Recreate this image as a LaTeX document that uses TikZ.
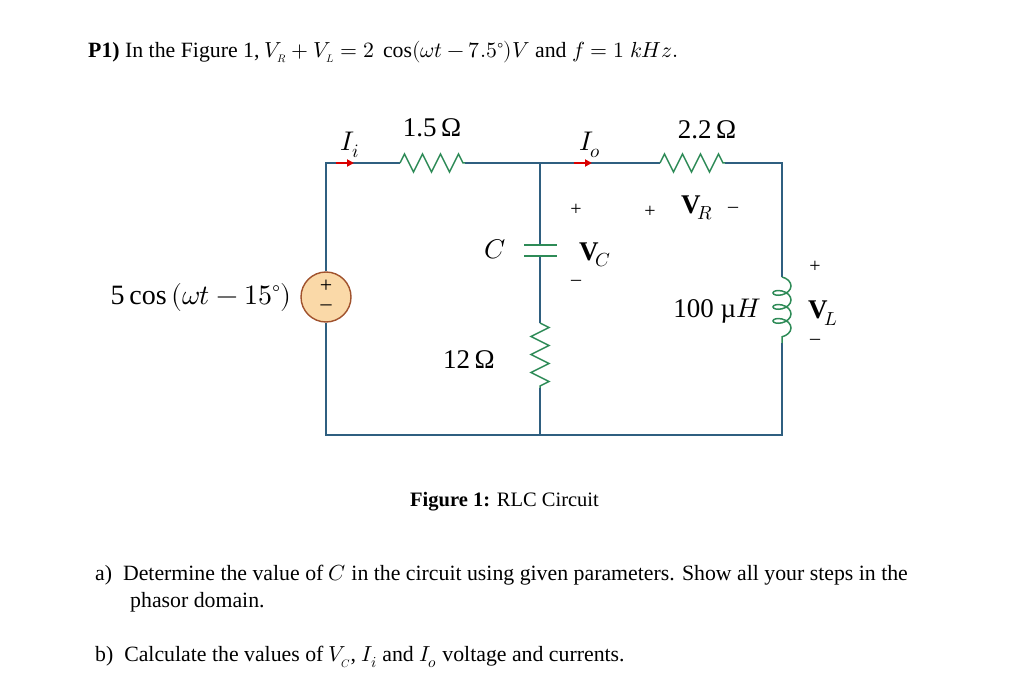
\documentclass[tikz,border=0pt]{standalone}
\usepackage{fontspec}
\usepackage{unicode-math}
\setmainfont{Liberation Serif}
\setmathfont{Latin Modern Math}
\usetikzlibrary{decorations.pathmorphing,arrows.meta}
\definecolor{wire}{HTML}{2F5F80}
\definecolor{comp}{HTML}{2E8B57}
\definecolor{srcfill}{HTML}{FAD9A8}
\definecolor{srcdraw}{HTML}{A0522D}
\tikzset{
 w/.style={draw=wire,line width=1.6pt},
 res/.style={draw=comp,line width=1.5pt,decorate,decoration={zigzag,amplitude=9pt,segment length=18pt}},
 ind/.style={draw=comp,line width=1.5pt,decorate,decoration={coil,amplitude=9pt,segment length=14pt,aspect=0.6}},
 lbl/.style={font=\fontsize{27}{29}\selectfont,inner sep=0pt},
 txt/.style={font=\fontsize{21.8}{26}\selectfont,inner sep=0pt,anchor=west},
 cur/.style={-{Triangle[length=7pt,width=7pt]},draw=red!85!black,line width=2pt}
}
\begin{document}
\begin{tikzpicture}[x=1pt,y=-1pt]
\useasboundingbox (0,0) rectangle (1021,698);
\coordinate (tl) at (326,163); \coordinate (tm) at (540,163); \coordinate (tr) at (782,163);
\coordinate (bl) at (326,435); \coordinate (bm) at (540,435); \coordinate (br) at (782,435);
\coordinate (r1a) at (400,163); \coordinate (r1b) at (465,163);
\coordinate (r2a) at (660,163); \coordinate (r2b) at (725,163);
\coordinate (c1) at (540,245); \coordinate (c2) at (540,256);
\coordinate (r3a) at (540,323); \coordinate (r3b) at (540,388);
\coordinate (l1) at (782,277); \coordinate (l2) at (782,343);
\node[circle,draw=srcdraw,fill=srcfill,line width=1.4pt,minimum size=50pt,inner sep=0pt] (src) at (326,297) {};
\draw[w] (src.north) -- (tl) -- (r1a);
\draw[w] (r1b) -- (tm) -- (r2a);
\draw[w] (r2b) -- (tr) -- (l1);
\draw[w] (l2) -- (br) -- (bl) -- (src.south);
\draw[w] (tm) -- (c1); \draw[w] (c2) -- (r3a); \draw[w] (r3b) -- (bm);
\draw[res] (r1a) -- (r1b);
\draw[res] (r2a) -- (r2b);
\draw[res] (r3a) -- (r3b);
\draw[ind] (l1) -- (l2);
\draw[comp,line width=1.8pt] (524,245) -- (557,245) (524,256) -- (557,256);
\node[font=\fontsize{22}{22}\selectfont,inner sep=0pt] (sp) at (326,286) {+};
\node[font=\fontsize{22}{22}\selectfont,inner sep=0pt] (sm) at (326,308) {–};
\coordinate (ia) at (336,163); \coordinate (ib) at (354,163);
\draw[cur] (ia) -- (ib);
\coordinate (oa) at (574,163); \coordinate (ob) at (592,163);
\draw[cur] (oa) -- (ob);
\node[lbl] (Ii) at (350,145) {$I_i$};
\node[lbl] (Io) at (590,145) {$I_o$};
\node[lbl] (R1) at (432,128) {1.5\,Ω};
\node[lbl] (R2) at (707,130) {2.2\,Ω};
\node[lbl] (R3) at (469,360) {12\,Ω};
\node[lbl] (C) at (495,249) {$C$};
\node[lbl] (VC) at (595,255) {$\mathbf{V}_{\!C}$};
\node[lbl,font=\fontsize{20}{20}\selectfont] (VCp) at (576,210) {+};
\node[lbl,font=\fontsize{20}{20}\selectfont] (VCm) at (576,283) {–};
\node[lbl] (VR) at (697,208) {$\mathbf{V}_{\!R}$};
\node[lbl,font=\fontsize{20}{20}\selectfont] (VRp) at (650,212) {+};
\node[lbl,font=\fontsize{20}{20}\selectfont] (VRm) at (733,210) {–};
\node[lbl] (L) at (717,311) {100 µ$H$};
\node[lbl,font=\fontsize{20}{20}\selectfont] (VLp) at (815,267) {+};
\node[lbl] (VL) at (823,313) {$\mathbf{V}_{\!L}$};
\node[lbl,font=\fontsize{20}{20}\selectfont] (VLm) at (815,342) {–};
\node[lbl,anchor=east,font=\fontsize{28}{30}\selectfont] (vs) at (292,297) {5$\,$cos$\,(\omega t - 15^\circ)$};
\node[txt] (title) at (88,52) {\textbf{P1)} In the Figure 1, $V_{\scriptscriptstyle R} + V_{\scriptscriptstyle L} = 2\ \cos(\omega t - 7.5^\circ)V$ and $f = 1\ kHz.$};
\node[txt,font=\fontsize{20.5}{24}\selectfont] (cap) at (410,502) {\textbf{Figure 1:} RLC Circuit};
\node[txt] (qa1) at (95,575) {a)\ \ Determine the value of $C$ in the circuit using given parameters. Show all your steps in the};
\node[txt] (qa2) at (130,602) {phasor domain.};
\node[txt] (qb) at (95,657) {b)\ \ Calculate the values of $V_{\scriptscriptstyle C}$, $I_i$ and $I_o$ voltage and currents.};
\end{tikzpicture}
\end{document}
